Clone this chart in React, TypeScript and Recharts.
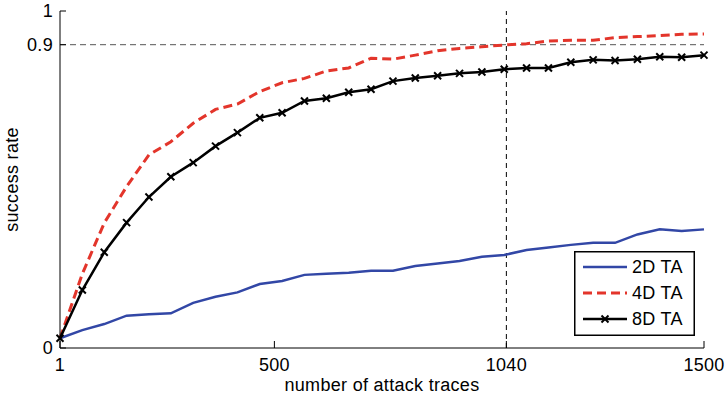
import React from "react";
import { LineChart, Line, XAxis, YAxis, ReferenceLine, Legend } from "recharts";

// number of attack traces (30 steps from 1 to 1500)
const traces = [
  1, 53, 104, 156, 208, 259, 311, 363, 414, 466, 518, 570, 621, 673, 725,
  776, 828, 880, 931, 983, 1035, 1087, 1138, 1190, 1242, 1293, 1345, 1397, 1448, 1500,
];

const ta2 = [
  0.029, 0.053, 0.071, 0.096, 0.1, 0.103, 0.134, 0.152, 0.165, 0.19, 0.199, 0.217, 0.22, 0.223, 0.229,
  0.229, 0.243, 0.251, 0.258, 0.271, 0.276, 0.291, 0.298, 0.306, 0.312, 0.312, 0.337, 0.352, 0.347, 0.352,
];

const ta4 = [
  0.029, 0.22, 0.371, 0.479, 0.573, 0.612, 0.667, 0.708, 0.724, 0.761, 0.787, 0.8, 0.822, 0.831, 0.86,
  0.857, 0.869, 0.882, 0.889, 0.894, 0.899, 0.903, 0.911, 0.913, 0.913, 0.921, 0.924, 0.927, 0.931, 0.932,
];

const ta8 = [
  0.029, 0.172, 0.284, 0.372, 0.448, 0.508, 0.55, 0.599, 0.639, 0.683, 0.698, 0.733, 0.741, 0.759, 0.768,
  0.792, 0.801, 0.808, 0.815, 0.819, 0.827, 0.831, 0.831, 0.848, 0.855, 0.853, 0.857, 0.864, 0.863, 0.869,
];

const xTicks = [1, 500, 1040, 1500];
const yTicks = [0, 0.9, 1];

const BLUE = "#3247a6";
const RED = "#e3352b";
const FONT = '"Liberation Sans", Arial, Helvetica, sans-serif';
const FS = 18;
const LS = 0.3;

const series = [
  { key: "ta2", name: "2D TA", color: BLUE, dash: undefined as string | undefined, width: 2.5, marker: false },
  { key: "ta4", name: "4D TA", color: RED, dash: "9 5", width: 3, marker: false },
  { key: "ta8", name: "8D TA", color: "#000", dash: undefined as string | undefined, width: 2.5, marker: true },
];

const data = traces.map((t, i) => ({ traces: t, ta2: ta2[i], ta4: ta4[i], ta8: ta8[i] }));

const CrossDot = (props: any) => {
  const { cx, cy } = props;
  if (cx == null || cy == null) return null;
  const s = 3.5;
  return (
    <g stroke="#000" strokeWidth={2}>
      <line x1={cx - s} y1={cy - s} x2={cx + s} y2={cy + s} />
      <line x1={cx - s} y1={cy + s} x2={cx + s} y2={cy - s} />
    </g>
  );
};

// ticks point inward, like the original figure
const YTick = (props: any) => {
  const { x, y, payload } = props;
  return (
    <g>
      <line x1={x} x2={x + 6} y1={y} y2={y} stroke="#000" strokeWidth={1} />
      <text x={x - 7} y={y} dy={6} textAnchor="end" fontSize={FS} letterSpacing={LS} fill="#000" fontFamily={FONT}>
        {payload.value}
      </text>
    </g>
  );
};

const XTick = (props: any) => {
  const { x, y, payload } = props;
  return (
    <g>
      <line x1={x} x2={x} y1={y} y2={y - 7} stroke="#000" strokeWidth={1} />
      <text x={x} y={y + 23} textAnchor="middle" fontSize={FS} letterSpacing={LS} fill="#000" fontFamily={FONT}>
        {payload.value}
      </text>
    </g>
  );
};

const LegendBox = () => (
  <svg width={121} height={85} style={{ display: "block" }}>
    <rect x={0.75} y={0.75} width={119.5} height={83.5} fill="#fff" stroke="#000" strokeWidth={1.5} />
    {series.map((s, i) => {
      const cy = 16 + i * 26;
      return (
        <g key={s.key}>
          <line x1={9} x2={53} y1={cy} y2={cy} stroke={s.color} strokeWidth={s.width} strokeDasharray={s.dash} />
          {s.marker && <CrossDot cx={31} cy={cy} />}
          <text x={58} y={cy + 6} fontSize={FS} letterSpacing={LS} fill="#000" fontFamily={FONT}>
            {s.name}
          </text>
        </g>
      );
    })}
  </svg>
);

export default function App() {
  return (
    <div style={{ position: "absolute", left: 0, top: 0, width: 726, height: 396, background: "#fff" }}>
      <LineChart width={726} height={396} data={data} margin={{ top: 11, right: 22, bottom: 0, left: 0 }}>
        <XAxis
          dataKey="traces"
          type="number"
          domain={[1, 1500]}
          ticks={xTicks}
          height={48}
          tickSize={0}
          tickMargin={0}
          tickLine={false}
          axisLine={{ stroke: "#000", strokeWidth: 1 }}
          tick={<XTick />}
          label={{
            content: (p: any) => (
              <text
                x={p.viewBox.x + p.viewBox.width / 2}
                y={p.viewBox.y + 43}
                textAnchor="middle"
                fontSize={FS}
                letterSpacing={LS}
                fill="#000"
                fontFamily={FONT}
              >
                number of attack traces
              </text>
            ),
          }}
        />
        <YAxis
          type="number"
          domain={[0, 1]}
          ticks={yTicks}
          width={60}
          tickSize={0}
          tickMargin={0}
          tickLine={false}
          axisLine={{ stroke: "#000", strokeWidth: 1 }}
          tick={<YTick />}
          label={{
            content: (p: any) => (
              <text
                transform={`translate(${p.viewBox.x + 18}, ${p.viewBox.y + p.viewBox.height / 2}) rotate(-90)`}
                textAnchor="middle"
                fontSize={FS}
                letterSpacing={LS}
                fill="#000"
                fontFamily={FONT}
              >
                success rate
              </text>
            ),
          }}
        />
        <ReferenceLine y={0.9} stroke="#555" strokeWidth={1} strokeDasharray="6 4" />
        <ReferenceLine x={1040} stroke="#000" strokeWidth={1} strokeDasharray="5 4" />
        {series.map((s) => (
          <Line
            key={s.key}
            type="linear"
            dataKey={s.key}
            name={s.name}
            stroke={s.color}
            strokeWidth={s.width}
            strokeDasharray={s.dash}
            dot={s.marker ? <CrossDot /> : false}
            activeDot={false}
            isAnimationActive={false}
          />
        ))}
        <Legend
          layout="vertical"
          align="center"
          verticalAlign="middle"
          content={() => <LegendBox />}
          wrapperStyle={{ left: 574, top: 251, width: 121, height: 85 }}
        />
      </LineChart>
    </div>
  );
}
